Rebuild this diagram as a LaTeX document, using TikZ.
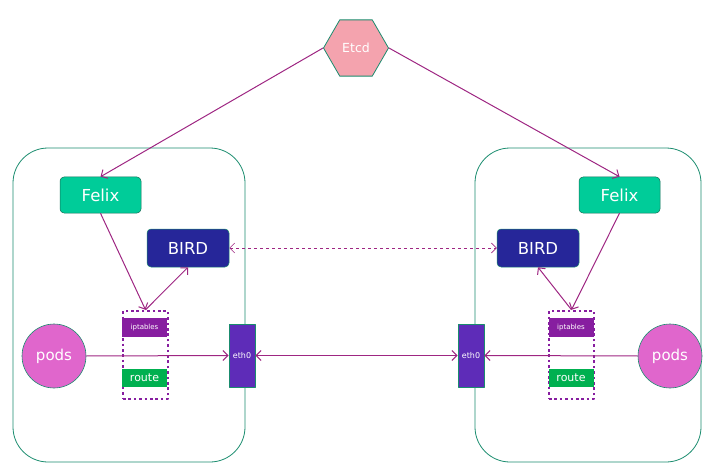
\documentclass[tikz,border=0pt]{standalone}
\usepackage{fontspec}
\setmainfont{DejaVu Sans}
\usetikzlibrary{shapes.geometric,arrows.meta}
\definecolor{linkc}{RGB}{158,38,130}
\definecolor{edgec}{RGB}{26,140,110}
\definecolor{etcdc}{RGB}{244,163,174}
\definecolor{felixc}{RGB}{0,204,153}
\definecolor{birdc}{RGB}{38,38,153}
\definecolor{iptc}{RGB}{135,30,160}
\definecolor{routec}{RGB}{0,176,80}
\definecolor{ethc}{RGB}{94,44,184}
\definecolor{podc}{RGB}{224,102,204}

\begin{document}
\begin{tikzpicture}[x=1pt,y=-1pt,line join=round,
  host/.style={draw=edgec,line width=0.8pt,rounded corners=35pt,minimum width=232pt,minimum height=314pt},
  agent/.style={draw=edgec!80!black,line width=0.5pt,rounded corners=4pt,text=white,font=\fontsize{16.5}{16.5}\selectfont},
  tbl/.style={inner sep=0pt,text=white,minimum width=45pt},
  chain/.style={draw=iptc,line width=2.4pt,dash pattern=on 2.6pt off 2.8pt,minimum width=45pt,minimum height=88pt},
  flow/.style={draw=linkc,line width=1pt,-{Straight Barb[length=5pt,width=10pt]}},
  both/.style={flow,{Straight Barb[length=5pt,width=10pt]}-{Straight Barb[length=5pt,width=10pt]}}]
\useasboundingbox (0,0) rectangle (718,476);
% hosts
\node[host] (hostL) at (129,305) {};
\node[host,minimum width=226pt] (hostR) at (588,305) {};
% etcd
\node[regular polygon,regular polygon sides=6,minimum size=65pt,inner sep=0pt,
  fill=etcdc,draw=edgec,line width=0.8pt,text=white,font=\fontsize{12.5}{12.5}\selectfont] (etcd) at (356,48) {Etcd};
% felix and bird
\node[agent,fill=felixc,minimum width=81pt,minimum height=36pt] (felixL) at (100.5,195) {Felix};
\node[agent,fill=felixc,minimum width=81pt,minimum height=36pt] (felixR) at (619.5,195) {Felix};
\node[agent,fill=birdc,draw=edgec,minimum width=82pt,minimum height=38pt] (birdL) at (188,248) {BIRD};
\node[agent,fill=birdc,draw=edgec,minimum width=82pt,minimum height=38pt] (birdR) at (538,248) {BIRD};
% iptables / route
\node[chain] (boxL) at (145.5,355) {};
\node[chain] (boxR) at (571.5,355) {};
\node[tbl,fill=iptc,minimum height=19pt,font=\fontsize{7}{7}\selectfont] (ipL) at (144.5,327.5) {iptables};
\node[tbl,fill=iptc,minimum height=19pt,font=\fontsize{7}{7}\selectfont] (ipR) at (571,327.5) {iptables};
\node[tbl,fill=routec,minimum height=18pt,font=\fontsize{11}{11}\selectfont] (routeL) at (144.5,378) {route};
\node[tbl,fill=routec,minimum height=18pt,font=\fontsize{11}{11}\selectfont] (routeR) at (571,378) {route};
% eth0
\node[fill=ethc,draw=edgec,line width=0.8pt,minimum width=26pt,minimum height=63pt,inner sep=0pt,text=white,font=\fontsize{8}{8}\selectfont] (ethL) at (242,355.5) {eth0};
\node[fill=ethc,draw=edgec,line width=0.8pt,minimum width=26pt,minimum height=63pt,inner sep=0pt,text=white,font=\fontsize{8}{8}\selectfont] (ethR) at (471,355.5) {eth0};
% pods
\node[circle,fill=podc,draw=edgec,line width=0.6pt,minimum size=64pt,inner sep=0pt,text=white,font=\fontsize{15}{15}\selectfont] (podsL) at (54,356) {pods};
\node[circle,fill=podc,draw=edgec,line width=0.6pt,minimum size=64pt,inner sep=0pt,text=white,font=\fontsize{15}{15}\selectfont] (podsR) at (670,356) {pods};
% links
\draw[flow] (etcd.west) -- (felixL.north);
\draw[flow] (etcd.east) -- (felixR.north);
\draw[flow] (felixL.south) -- (boxL.north);
\draw[flow] (boxL.north) -- (birdL.south);
\draw[flow] (felixR.south) -- (boxR.north);
\draw[flow] (boxR.north) -- (birdR.south);
\draw[both,dashed,line width=0.7pt] (birdL.east) -- (birdR.west);
\draw[flow] (podsL.east) -- (ethL.west);
\draw[flow] (podsR.west) -- (ethR.east);
\draw[both] (ethL.east) -- (ethR.west);
\end{tikzpicture}
\end{document}
